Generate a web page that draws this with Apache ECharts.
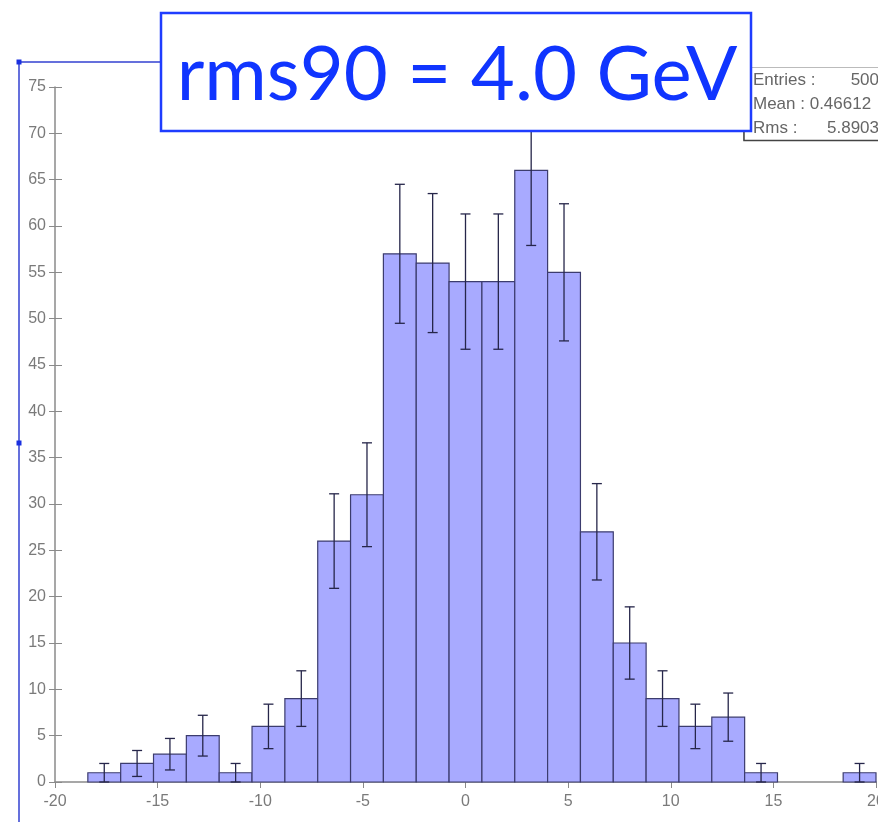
<!DOCTYPE html>
<html>
<head>
<meta charset="utf-8">
<script src="https://cdn.jsdelivr.net/npm/echarts@6/dist/echarts.min.js"></script>
<style>
  html, body { margin: 0; padding: 0; background: #fff; }
  #chart { width: 878px; height: 822px; }
</style>
</head>
<body>
<div id="chart"></div>
<script>
var dom = document.getElementById('chart');
var myChart = echarts.init(dom);

// histogram bins (lower / upper edge) and counts
var binLow  = [-20, -18.4, -16.8, -15.2, -13.6, -12, -10.4, -8.8, -7.2, -5.6, -4, -2.4, -0.8, 0.8, 2.4, 4, 5.6, 7.2, 8.8, 10.4, 12, 13.6, 15.2, 16.8, 18.4];
var binHigh = [-18.4, -16.8, -15.2, -13.6, -12, -10.4, -8.8, -7.2, -5.6, -4, -2.4, -0.8, 0.8, 2.4, 4, 5.6, 7.2, 8.8, 10.4, 12, 13.6, 15.2, 16.8, 18.4, 20];
var counts  = [0, 1, 2, 3, 5, 1, 6, 9, 26, 31, 57, 56, 54, 54, 66, 55, 27, 15, 9, 6, 7, 1, 0, 0, 1];
// error bar half-lengths
var errors  = [0, 1, 1.4, 1.7, 2.2, 1, 2.4, 3, 5.1, 5.6, 7.5, 7.5, 7.3, 7.3, 8.1, 7.4, 5.2, 3.9, 3, 2.4, 2.6, 1, 0, 0, 1];

var xTicks = [-20, 20, 5];   // min, max, interval
var yTicks = [0, 75, 5];

var statsLabels = ['Entries :', 'Mean : 0.46612', 'Rms :'];
var statsValues = ['500', '', '5.8903'];
var titleText = 'rms90 = 4.0 GeV';

var barData = [];
var errData = [];
for (var i = 0; i < counts.length; i++) {
  barData.push([binLow[i], binHigh[i], counts[i]]);
  errData.push([(binLow[i] + binHigh[i]) / 2, counts[i], errors[i]]);
}

var axisGray = '#8a8a8a';
var labelStyle = { color: '#7a7a7a', fontSize: 16, fontFamily: 'Liberation Sans' };

var statsGraphics = [];
for (var k = 0; k < statsLabels.length; k++) {
  statsGraphics.push({
    type: 'text', x: 753, y: 80 + k * 24, z: 20,
    style: { text: statsLabels[k], fill: '#666', font: '17px "Liberation Sans"', textVerticalAlign: 'middle' }
  });
  if (statsValues[k]) {
    statsGraphics.push({
      type: 'text', x: 879, y: 80 + k * 24, z: 20,
      style: { text: statsValues[k], fill: '#666', font: '17px "Liberation Sans"', textAlign: 'right', textVerticalAlign: 'middle' }
    });
  }
}

option = {
  animation: false,
  backgroundColor: '#fff',
  grid: { left: 55, right: 2, top: 87, bottom: 40, outerBoundsMode: 'none', containLabel: false },
  xAxis: {
    type: 'value',
    min: xTicks[0], max: xTicks[1], interval: xTicks[2],
    axisLine: { lineStyle: { color: axisGray, width: 1.5 } },
    axisTick: { length: 6, lineStyle: { color: axisGray } },
    splitLine: { show: false },
    axisLabel: Object.assign({ margin: 12 }, labelStyle)
  },
  yAxis: [{
    type: 'value', position: 'left',
    min: yTicks[0], max: yTicks[1], interval: yTicks[2],
    axisLine: { show: true, onZero: false, lineStyle: { color: axisGray, width: 1.5 } },
    axisTick: { show: true, length: 6, lineStyle: { color: axisGray } },
    splitLine: { show: false },
    axisLabel: Object.assign({ margin: 9 }, labelStyle)
  }, {
    type: 'value', position: 'left',
    min: yTicks[0], max: yTicks[1], interval: yTicks[2],
    axisLine: { show: false, onZero: false },
    axisTick: { show: true, inside: true, length: 7, lineStyle: { color: axisGray } },
    splitLine: { show: false },
    axisLabel: { show: false }
  }],
  series: [{
    type: 'custom',
    name: 'bins',
    data: barData,
    encode: { x: [0, 1], y: 2 },
    renderItem: function (params, api) {
      var v = api.value(2);
      if (!v) return null;
      var p0 = api.coord([api.value(0), v]);
      var p1 = api.coord([api.value(1), 0]);
      return {
        type: 'rect',
        shape: { x: p0[0], y: p0[1], width: p1[0] - p0[0], height: p1[1] - p0[1] },
        style: { fill: '#a8aaff', stroke: '#3c3c6e', lineWidth: 1.2 }
      };
    },
    z: 2
  }, {
    type: 'custom',
    name: 'errors',
    data: errData,
    encode: { x: 0, y: 1 },
    renderItem: function (params, api) {
      var x = api.value(0), v = api.value(1), e = api.value(2);
      if (!v) return null;
      var top = api.coord([x, v + e]);
      var bot = api.coord([x, v - e]);
      var s = { stroke: '#26264a', lineWidth: 1.3 };
      var w = 5;
      return {
        type: 'group',
        children: [
          { type: 'line', shape: { x1: top[0], y1: top[1], x2: bot[0], y2: bot[1] }, style: s },
          { type: 'line', shape: { x1: top[0] - w, y1: top[1], x2: top[0] + w, y2: top[1] }, style: s },
          { type: 'line', shape: { x1: bot[0] - w, y1: bot[1], x2: bot[0] + w, y2: bot[1] }, style: s }
        ]
      };
    },
    z: 3
  }],
  graphic: [
    // blue selection frame on the left
    { type: 'line', shape: { x1: 19, y1: 62, x2: 19, y2: 822 }, style: { stroke: '#3240d0', lineWidth: 1.5 }, z: 5 },
    { type: 'line', shape: { x1: 19, y1: 62, x2: 745, y2: 62 }, style: { stroke: '#3240d0', lineWidth: 1.5 }, z: 5 },
    { type: 'rect', shape: { x: 16.5, y: 59.5, width: 5, height: 5 }, style: { fill: '#1a30e0' }, z: 6 },
    { type: 'rect', shape: { x: 16.5, y: 440.5, width: 5, height: 5 }, style: { fill: '#1a30e0' }, z: 6 },
    // stats box
    { type: 'rect', shape: { x: 743.5, y: 67.5, width: 140, height: 73 }, style: { fill: '#fff', stroke: '#bbb', lineWidth: 1 }, z: 10 },
    { type: 'polyline', shape: { points: [[744, 100], [744, 140.5], [880, 140.5]] }, style: { stroke: '#444', lineWidth: 1.5, fill: null }, z: 11 }
  ].concat(statsGraphics).concat([
    // title box
    { type: 'rect', shape: { x: 161, y: 13, width: 590, height: 118 }, style: { fill: '#fff', stroke: '#1f3dff', lineWidth: 2.5 }, z: 30 },
    {
      type: 'text', x: 457, y: 75, z: 31,
      style: { text: titleText, fill: '#1035ff', font: '76px Lato', textAlign: 'center', textVerticalAlign: 'middle' }
    }
  ])
};

if (option && typeof option === 'object') {
  myChart.setOption(option, true);
}
</script>
</body>
</html>
